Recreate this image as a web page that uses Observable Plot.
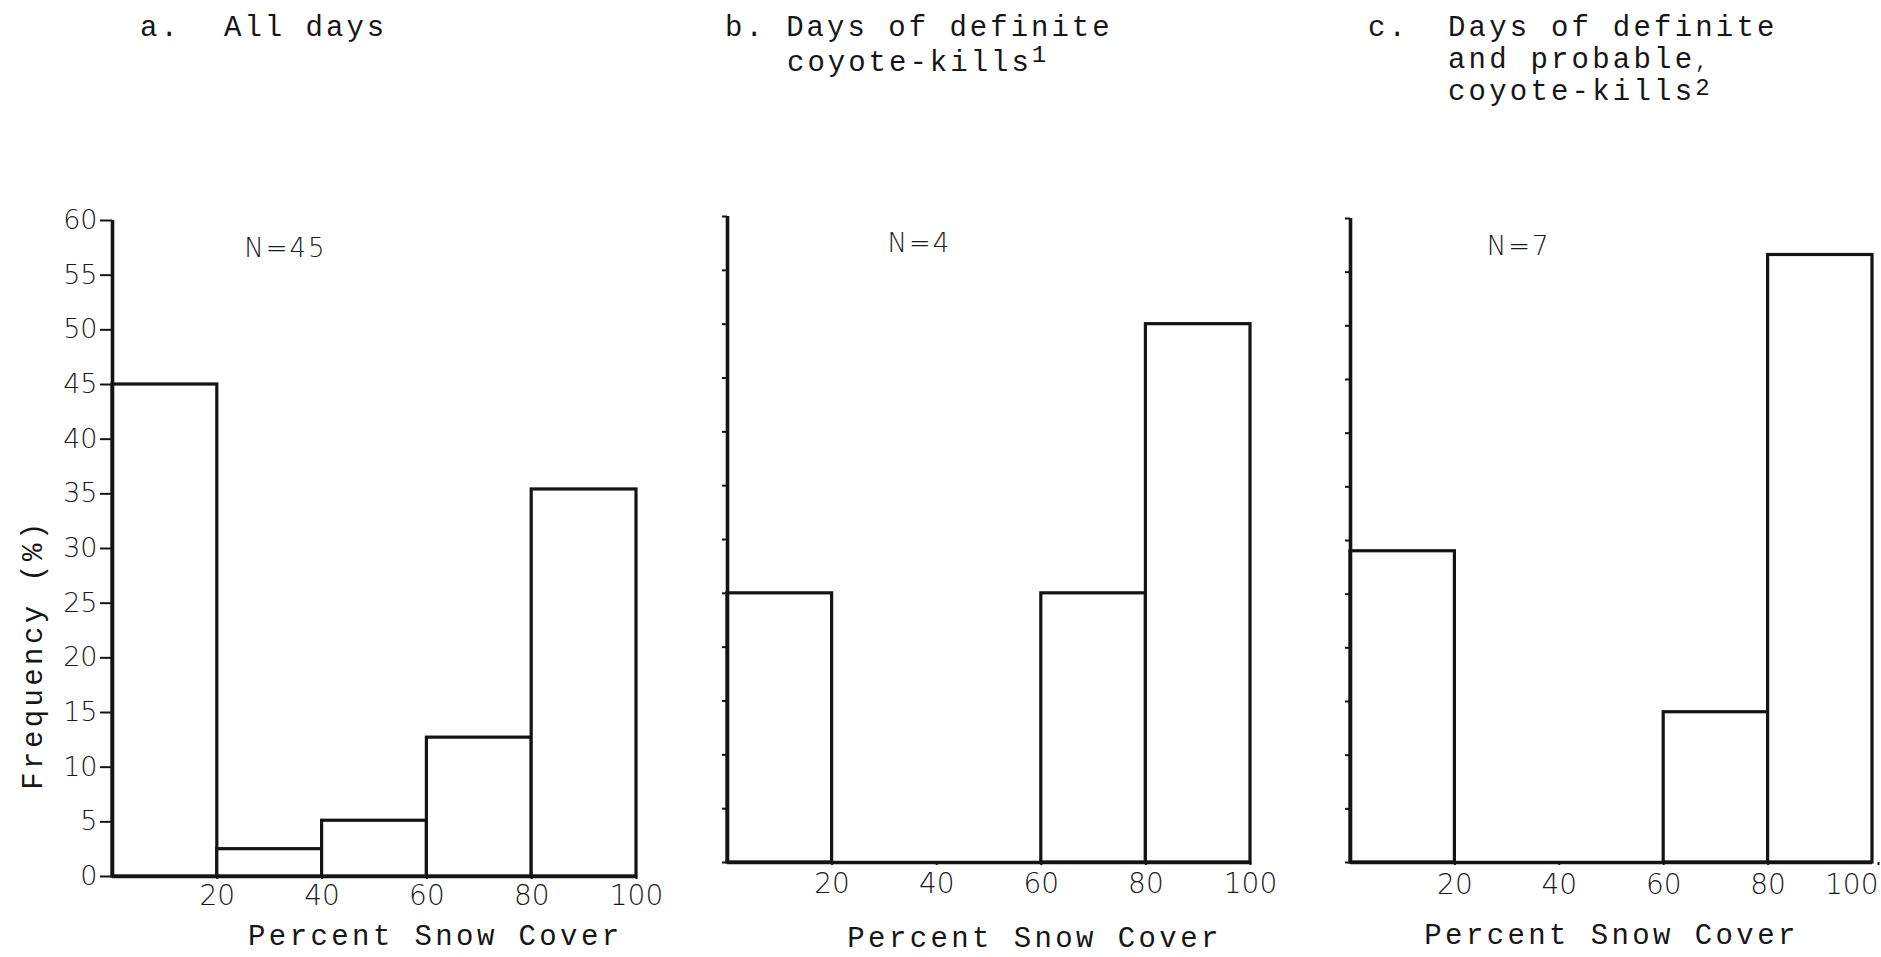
<!DOCTYPE html>
<html><head><meta charset="utf-8">
<script src="https://cdn.jsdelivr.net/npm/d3@7"></script>
<script src="https://cdn.jsdelivr.net/npm/@observablehq/plot@0.6"></script>
<style>
body{margin:0;background:#fff;}
#wrap{position:relative;width:1881px;height:957px;overflow:hidden;background:#fff;}
.ttl{position:absolute;font-family:"Liberation Mono",monospace;font-size:29px;letter-spacing:3px;color:#161616;white-space:pre;line-height:32px;}
.ttl sup{font-size:24px;line-height:0;letter-spacing:0;}
.ttl .cm{font-size:20px;letter-spacing:0;}
.panel{position:absolute;top:180px;}
.panel svg{overflow:visible;}
.panel g[aria-label="x-axis tick label"] text,
.panel g[aria-label="y-axis tick label"] text{font-family:"DejaVu Sans",sans-serif;font-weight:300;}
.panel g[font-family="Liberation Mono"] text{letter-spacing:3.4px;}
.panel g[font-family="DejaVu Sans"] text{letter-spacing:2px;}
</style></head><body><div id="wrap"></div>
<script>
// ---- data ----
const binStarts = [0, 20, 40, 60, 80];
const binEnds = [20, 40, 60, 80, 100];
const freqAllDays = [45, 2.5, 5.1, 12.7, 35.4];
const freqDefinite = [25, 0, 0, 25, 50];
const freqDefProbable = [29, 0, 0, 14, 56.6];
const yTicks = [0, 5, 10, 15, 20, 25, 30, 35, 40, 45, 50, 55, 60];
const xTicks = [20, 40, 60, 80, 100];
const nLabels = ["N=45", "N=4", "N=7"];
const xAxisLabel = "Percent Snow Cover";
const yAxisLabel = "Frequency (%)";
const panelTitles = [
  ["a.", "All days"],
  ["b.", "Days of definite", "coyote-kills", "1"],
  ["c.", "Days of definite", "and probable", "coyote-kills", "2"]
];

const wrap = document.getElementById("wrap");

// ---- titles (HTML above the plots) ----
function addText(html, left, top, extra) {
  const d = document.createElement("div");
  d.className = "ttl";
  d.style.left = left + "px";
  d.style.top = top + "px";
  Object.assign(d.style, extra || {});
  d.innerHTML = html;
  wrap.appendChild(d);
}
addText(panelTitles[0][0], 140, 13);
addText(panelTitles[0][1], 224, 13);
addText(panelTitles[1][0] + " " + panelTitles[1][1], 725, 13);
addText(panelTitles[1][2] + '<sup style="vertical-align:9px">' + panelTitles[1][3] + "</sup>", 787, 48);
addText(panelTitles[2][0], 1368, 13);
addText(panelTitles[2][1], 1448, 13, {letterSpacing: "3.2px"});
addText(panelTitles[2][2] + '<span class="cm">,</span>', 1448, 45, {letterSpacing: "3.2px"});
addText(panelTitles[2][3] + '<sup style="vertical-align:5px">' + panelTitles[2][4] + "</sup>", 1448, 77, {letterSpacing: "3.2px"});

// ---- panels ----
function panel(o) {
  const bars = binStarts.map((s, i) => ({x1: s, x2: binEnds[i], f: o.freq[i]})).filter(d => d.f > 0);
  const ink = "#141414";
  const marks = [
    Plot.rect(bars, {x1: "x1", x2: "x2", y1: 0, y2: "f", fill: "white", stroke: ink, strokeWidth: 3.2}),
    Plot.ruleX([0], {y1: 0, y2: 60, stroke: ink, strokeWidth: 3.6}),
    Plot.ruleY([0], {x1: 0, x2: 100, stroke: ink, strokeWidth: 3.6}),
    Plot.axisY({ticks: yTicks, tickSize: o.yLabels ? 12 : 5, tickPadding: 3, strokeWidth: 2, stroke: ink,
      tickFormat: o.yLabels ? (d => String(d)) : (() => ""), label: null, fontSize: 27, fill: "#1a1a1a"}),
    Plot.axisX({ticks: o.lastEnd ? xTicks.slice(0, 4) : xTicks, tickSize: 3, tickPadding: o.xPad, strokeWidth: 2, stroke: ink,
      label: null, fontSize: 28, fill: "#1a1a1a"}),
    Plot.text([o.n], {x: o.nx, y: o.ny, fontSize: 26, fontFamily: "DejaVu Sans", fontWeight: 300, fill: "#1a1a1a"}),
    Plot.text([xAxisLabel], {x: o.lx, frameAnchor: "bottom", dy: o.ldy, fontSize: 29, fontFamily: "Liberation Mono",
      fill: "#161616"})
  ];
  if (o.lastEnd) {
    marks.push(Plot.axisX({ticks: [100], tickSize: 3, tickPadding: o.xPad, strokeWidth: 2, stroke: ink, label: null,
      fontSize: 28, fill: "#1a1a1a", textAnchor: "end", dx: 6}));
  }
  if (o.yLabels) {
    marks.push(Plot.text([yAxisLabel], {frameAnchor: "left", textAnchor: "middle", dx: -80, dy: 106, rotate: -90,
      fontSize: 29, fontFamily: "Liberation Mono", fill: "#161616"}));
  }
  const p = Plot.plot({
    width: o.width, height: 777,
    marginLeft: o.ml, marginRight: o.mr, marginTop: o.mt, marginBottom: o.mb,
    style: {background: "transparent", overflow: "visible"},
    x: {domain: [0, 100]},
    y: {domain: [0, 60]},
    marks
  });
  const div = document.createElement("div");
  div.className = "panel";
  div.style.left = o.left + "px";
  div.appendChild(p);
  wrap.appendChild(div);
}

panel({freq: freqAllDays, left: 0, width: 700, ml: 112, mr: 64, mt: 40, mb: 81, yLabels: true,
  n: nLabels[0], nx: 33, ny: 57.4, lx: 61.6, ldy: 68, xPad: 6});
panel({freq: freqDefinite, left: 640, width: 660, ml: 87, mr: 50, mt: 36, mb: 95, yLabels: false,
  n: nLabels[1], nx: 36.7, ny: 57.5, lx: 58.7, ldy: 84, xPad: 8});
panel({freq: freqDefProbable, left: 1280, width: 601, ml: 70, mr: 9, mt: 38, mb: 95, yLabels: false,
  n: nLabels[2], nx: 32.2, ny: 57.4, lx: 50, ldy: 81, xPad: 9, lastEnd: true});
</script>
</body></html>
